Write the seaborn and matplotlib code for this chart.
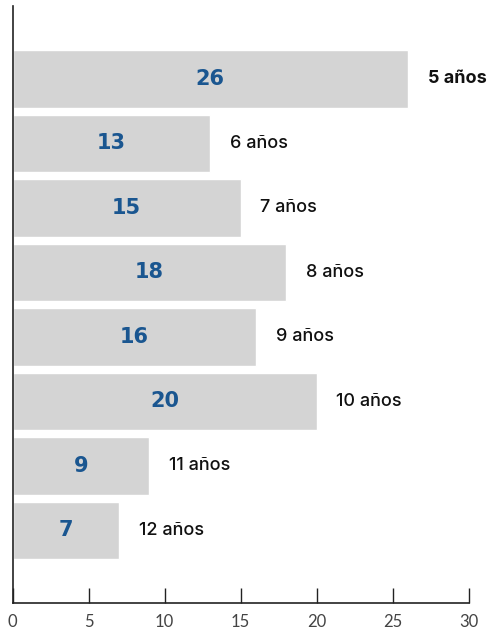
import matplotlib
matplotlib.use("Agg")
import matplotlib.pyplot as plt
import seaborn as sns
import pandas as pd

# Ages and counts
ages = ["5 años", "6 años", "7 años", "8 años", "9 años", "10 años", "11 años", "12 años"]
counts = [26, 13, 15, 18, 16, 20, 9, 7]
x_ticks = [0, 5, 10, 15, 20, 25, 30]

df = pd.DataFrame({"edad": ages, "n": counts})

sns.set_theme(style="white")
plt.rcParams["font.family"] = ["DejaVu Sans"]

fig = plt.figure(figsize=(4.91, 6.34), dpi=100)
ax = fig.add_axes([0.0255, 0.0494, 0.929, 0.9411])

sns.barplot(data=df, x="n", y="edad", orient="h", color="#d4d4d4",
            saturation=1, width=0.89, ax=ax)

ax.set_xlim(0, 30)
ax.set_ylim(8.12, -1.13)
ax.set_xticks(x_ticks)
ax.set_xticklabels([str(t) for t in x_ticks], fontsize=12, color="#444444",
                   fontfamily="Lato", fontweight="normal")
ax.set_yticks([])
ax.set_xlabel("")
ax.set_ylabel("")

for side in ("top", "right"):
    ax.spines[side].set_visible(False)
for side in ("left", "bottom"):
    ax.spines[side].set_color("#222222")
    ax.spines[side].set_linewidth(1.2)

ax.tick_params(axis="x", direction="in", length=11, width=1.0, color="#222222",
               pad=8, bottom=True)

for i, (age, n) in enumerate(zip(ages, counts)):
    ax.text(n / 2, i, str(n), ha="center", va="center", fontsize=15,
            fontweight="bold", color="#1a5690")
    ax.text(n + 1.3, i, age, ha="left", va="center", fontsize=13,
            fontfamily="Inter", fontweight="bold" if i == 0 else "medium",
            color="#111111", clip_on=False)

fig.savefig("out.png", dpi=100)
